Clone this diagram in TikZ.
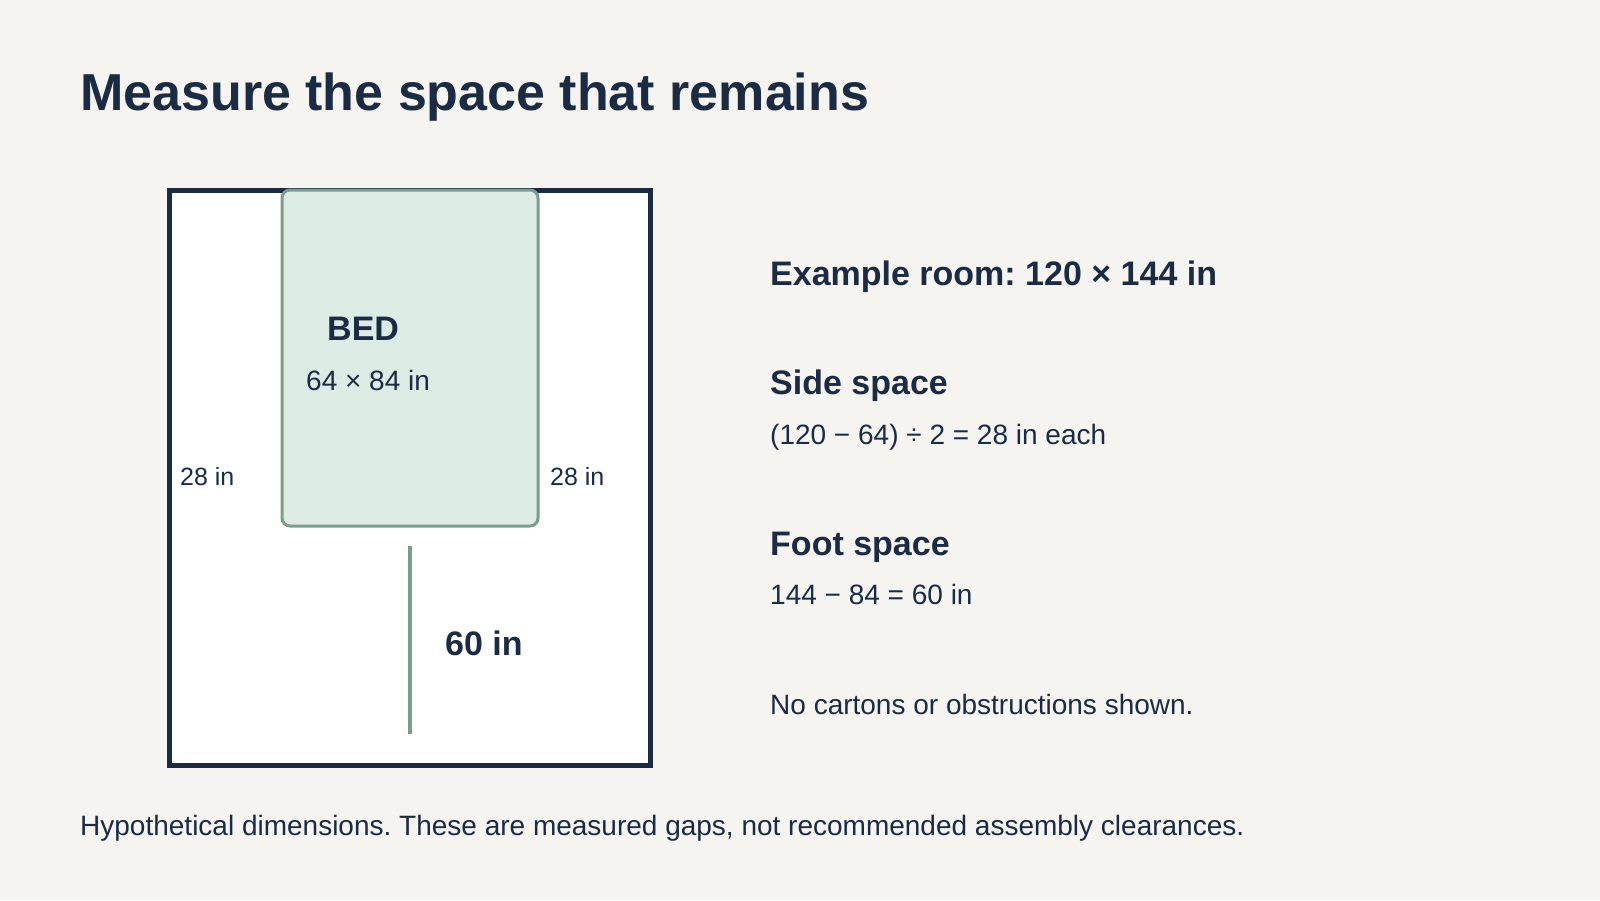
\documentclass[tikz,border=0pt]{standalone}
\usepackage{fontspec}
\setmainfont{Liberation Sans}
\frenchspacing
\definecolor{ink}{HTML}{1B2B44}
\definecolor{paper}{HTML}{F5F4F1}
\definecolor{bedfill}{HTML}{DCEBE4}
\definecolor{bedline}{HTML}{7A9E8E}
\begin{document}
\begin{tikzpicture}[x=1pt,y=-1pt,
  txt/.style={anchor=base west,inner sep=0pt,text=ink,font=\fontsize{#1}{#1}\selectfont},
  head/.style={anchor=base west,inner sep=0pt,text=ink,font=\fontsize{#1}{#1}\selectfont\bfseries}]
  \fill[paper] (0,0) rectangle (1600,900);
  \useasboundingbox (0,0) rectangle (1600,900);

  \node[head=52] (title) at (80,110) {Measure the space that remains};

  % room 120 x 144 in, 4 px per inch
  \draw[ink,line width=5pt,fill=white] (169,190) rectangle (650,765);
  \draw[bedline,line width=3pt,fill=bedfill,rounded corners=8pt] (282,190) rectangle (538,526);
  \coordinate (foottop) at (410,546);
  \coordinate (footend) at (410,734);
  \draw[bedline,line width=4.5pt] (foottop) -- (footend);

  \node[head=34] (bedname) at (327,340) {BED};
  \node[txt=28] (bedsize) at (306,390) {64 × 84 in};
  \node[txt=25] (leftgap) at (180,485) {28 in};
  \node[txt=25] (rightgap) at (550,485) {28 in};
  \node[head=34] (footgap) at (445,655) {60 in};

  \node[head=34] (room) at (770,285) {Example room: 120 × 144 in};
  \node[head=34] (side) at (770,394) {Side space};
  \node[txt=28] (sidecalc) at (770,444) {(120 − 64) ÷ 2 = 28 in each};
  \node[head=34] (foot) at (770,555) {Foot space};
  \node[txt=28] (footcalc) at (770,604) {144 − 84 = 60 in};
  \node[txt=28] (note) at (770,714) {No cartons or obstructions shown.};

  \node[txt=28] (footer) at (80,835) {Hypothetical dimensions. These are measured gaps, not recommended assembly clearances.};
\end{tikzpicture}
\end{document}
